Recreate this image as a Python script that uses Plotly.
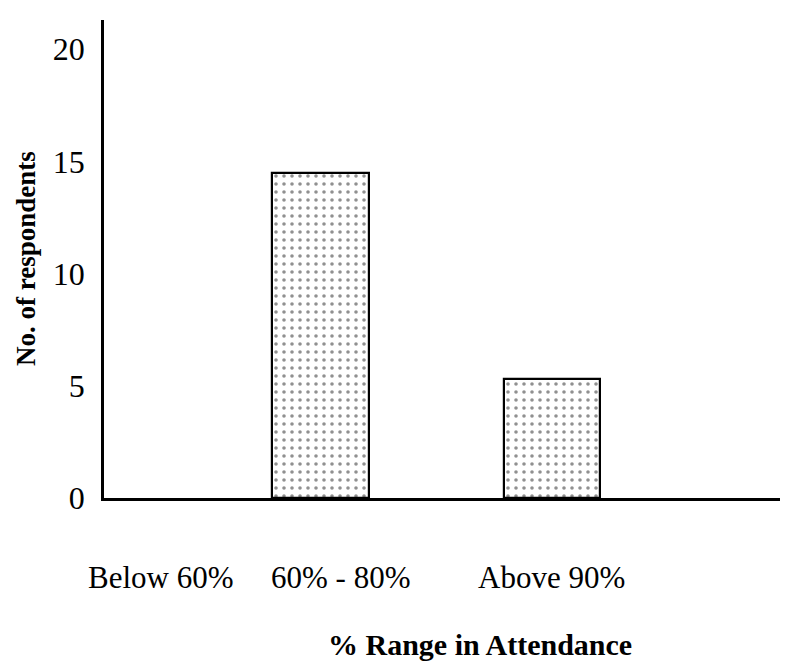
import plotly.graph_objects as go

categories = ["Below 60%", "60% - 80%", "Above 90%"]
respondents = [0, 14.5, 5.3]
y_ticks = [0, 5, 10, 15, 20]
x_title = "% Range in Attendance"
y_title = "No. of respondents"

FONT = "Liberation Serif, Times New Roman, serif"

fig = go.Figure()
fig.add_trace(go.Bar(
    x=categories,
    y=respondents,
    width=0.415,
    marker=dict(
        color="white",
        line=dict(color="black", width=[0 if v == 0 else 2.2 for v in respondents]),
        pattern=dict(shape=".", size=8, solidity=0.16, fgcolor="#222222", bgcolor="white"),
    ),
    showlegend=False,
))

# category labels as text below the axis
label_x = [0.0843, 0.3499, 0.6627]
annotations = []
for cat, px in zip(categories, label_x):
    annotations.append(dict(
        text=cat, xref="paper", yref="paper", x=px, y=0,
        xanchor="center", yanchor="middle", yshift=-79, showarrow=False,
        font=dict(family=FONT, size=31, color="black"),
    ))
annotations.append(dict(
    text="<b>" + x_title + "</b>", xref="paper", yref="paper", x=0.556, y=0,
    xanchor="center", yanchor="middle", yshift=-146, showarrow=False,
    font=dict(family=FONT, size=30, color="black"),
))
annotations.append(dict(
    text="<b>" + y_title + "</b>", xref="paper", yref="paper", x=0, y=0.5,
    xanchor="center", yanchor="middle", xshift=-78, yshift=0, showarrow=False,
    textangle=-90, font=dict(family=FONT, size=27, color="black"),
))

# the page body adds an 8px offset, so margins are shifted to compensate
fig.update_layout(
    width=793, height=664,
    margin=dict(l=96, r=21, t=12, b=174),
    paper_bgcolor="white", plot_bgcolor="white",
    annotations=annotations,
    xaxis=dict(
        type="category", categoryorder="array", categoryarray=categories,
        range=[0.065, 2.985], showticklabels=False, ticks="",
        showline=True, linecolor="black", linewidth=2.5, showgrid=False, zeroline=False,
    ),
    yaxis=dict(
        range=[0, 21.3], tickvals=y_ticks, ticks="", showgrid=False, zeroline=False,
        showline=True, linecolor="black", linewidth=2.5,
        tickfont=dict(family=FONT, size=32, color="black"), ticklabelstandoff=10,
    ),
    bargap=0,
)

fig.write_html("out.html")
